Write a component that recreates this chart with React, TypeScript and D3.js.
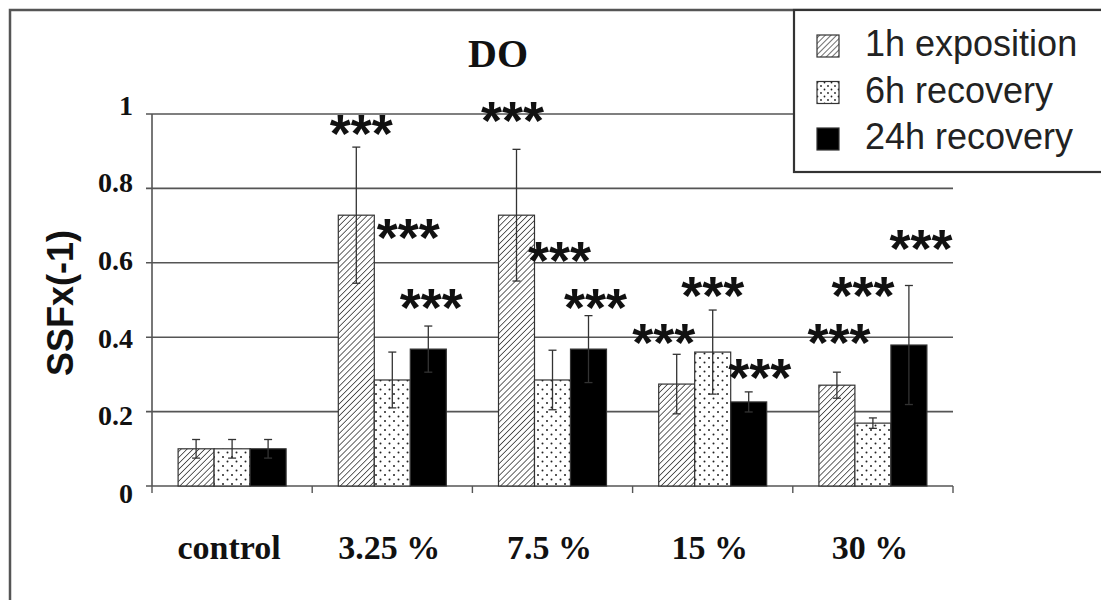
import React from "react";
import * as d3 from "d3";

const categories = ["control", "3.25 %", "7.5 %", "15 %", "30 %"];
const seriesNames = ["1h exposition", "6h recovery", "24h recovery"];
const exposition1h = [0.1, 0.728, 0.728, 0.274, 0.271];
const recovery6h = [0.1, 0.285, 0.285, 0.36, 0.169];
const recovery24h = [0.1, 0.368, 0.368, 0.226, 0.379];
const err1h = [0.025, 0.183, 0.177, 0.08, 0.035];
const err6h = [0.025, 0.075, 0.08, 0.113, 0.014];
const err24h = [0.025, 0.062, 0.09, 0.027, 0.16];
const yTicks = [0, 0.2, 0.4, 0.6, 0.8, 1];
const yTickLabels = ["0", "0.2", "0.4", "0.6", "0.8", "1"];
// significance marks: level (data units of star centre) per series per category
const star1h = [null, 0.962, 0.997, 0.401, 0.401];
const star6h = [null, 0.683, 0.621, 0.527, 0.527];
const star24h = [null, 0.495, 0.495, 0.306, 0.653];
const starShift1h = [0, 5, -4, -13, 2];
const starShift6h = [0, 16, 7, 0, -10];
const starShift24h = [0, 3, 7, 11, 12];

const W = 1101;
const H = 600;

export default function App() {
  const x0 = d3.scaleBand<string>().domain(categories).range([152, 953]).padding(0);
  const x1 = d3
    .scaleBand<string>()
    .domain(seriesNames)
    .range([0, x0.bandwidth()])
    .paddingInner(0)
    .paddingOuter(0.725);
  const y = d3.scaleLinear().domain([0, 1]).range([486, 114]);
  const yLab = d3.scaleLinear().domain([0, 1]).range([493, 105]);

  const values = [exposition1h, recovery6h, recovery24h];
  const errs = [err1h, err6h, err24h];
  const stars = [star1h, star6h, star24h];
  const shifts = [starShift1h, starShift6h, starShift24h];
  const fills = ["url(#hatch)", "url(#dots)", "#000"];

  const bw = x1.bandwidth();
  const starFs = 54;

  return (
    <svg width={W} height={H} style={{ position: "absolute", left: 0, top: 0, background: "#fff" }}>
      <defs>
        <pattern id="hatch" patternUnits="userSpaceOnUse" width="4.2" height="4.2" patternTransform="rotate(45)">
          <rect width="4.2" height="4.2" fill="#fff" />
          <line x1="0" y1="0" x2="0" y2="4.2" stroke="#222" strokeWidth="1.4" />
        </pattern>
        <pattern id="dots" patternUnits="userSpaceOnUse" width="9" height="9">
          <rect width="9" height="9" fill="#fff" />
          <circle cx="2.5" cy="2.5" r="1" fill="#222" />
          <circle cx="7" cy="7" r="1" fill="#222" />
        </pattern>
        <pattern id="hatchL" patternUnits="userSpaceOnUse" width="4" height="4" patternTransform="rotate(45)">
          <rect width="4" height="4" fill="#fff" />
          <line x1="0" y1="0" x2="0" y2="4" stroke="#222" strokeWidth="1.3" />
        </pattern>
        <pattern id="dotsL" patternUnits="userSpaceOnUse" width="7" height="7">
          <rect width="7" height="7" fill="#fff" />
          <circle cx="2" cy="2" r="0.9" fill="#222" />
          <circle cx="5.5" cy="5.5" r="0.9" fill="#222" />
        </pattern>
      </defs>
      <rect x={0} y={0} width={W} height={H} fill="#fff" />
      {/* outer frame */}
      <rect x={10} y={10} width={W + 20} height={H + 20} fill="none" stroke="#555" strokeWidth={2.5} />

      {/* title */}
      <text x={498} y={67} textAnchor="middle" fontFamily="Liberation Serif" fontWeight="bold" fontSize={40} fill="#111">
        DO
      </text>

      {/* gridlines */}
      {yTicks.map((t, i) => (
        <g key={"g" + i}>
          <line x1={146} x2={953} y1={y(t)} y2={y(t)} stroke="#555" strokeWidth={1.6} />
          <text
            x={133}
            y={yLab(t)}
            dy="0.35em"
            textAnchor="end"
            fontFamily="Liberation Serif"
            fontWeight="bold"
            fontSize={28}
            fill="#111"
          >
            {yTickLabels[i]}
          </text>
        </g>
      ))}
      {/* y axis */}
      <line x1={152} x2={152} y1={y(1)} y2={y(0)} stroke="#555" strokeWidth={1.6} />
      {/* x ticks */}
      {categories.map((c, i) => (
        <line key={"xt" + i} x1={x0(c)!} x2={x0(c)!} y1={y(0)} y2={y(0) + 7} stroke="#555" strokeWidth={1.4} />
      ))}
      <line x1={953} x2={953} y1={y(0)} y2={y(0) + 7} stroke="#555" strokeWidth={1.4} />

      {/* y axis title */}
      <text
        transform={`translate(73,303) rotate(-90)`}
        textAnchor="middle"
        fontFamily="Liberation Sans"
        fontWeight="bold"
        fontSize={36}
        fill="#111"
      >
        SSFx(-1)
      </text>

      {/* bars */}
      {seriesNames.map((s, si) =>
        categories.map((c, ci) => {
          const bx = x0(c)! + x1(s)!;
          const v = values[si][ci];
          return (
            <rect
              key={`b${si}-${ci}`}
              x={bx}
              y={y(v)}
              width={bw}
              height={y(0) - y(v)}
              fill={fills[si]}
              stroke="#333"
              strokeWidth={1.2}
            />
          );
        })
      )}
      {/* error bars */}
      {seriesNames.map((s, si) =>
        categories.map((c, ci) => {
          const cx = x0(c)! + x1(s)! + bw / 2;
          const v = values[si][ci];
          const e = errs[si][ci];
          return (
            <g key={`e${si}-${ci}`} stroke="#333" strokeWidth={1.3}>
              <line x1={cx} x2={cx} y1={y(v + e)} y2={y(v - e)} />
              <line x1={cx - 4} x2={cx + 4} y1={y(v + e)} y2={y(v + e)} />
              <line x1={cx - 4} x2={cx + 4} y1={y(v - e)} y2={y(v - e)} />
            </g>
          );
        })
      )}
      {/* significance stars */}
      {seriesNames.map((s, si) =>
        categories.map((c, ci) => {
          const lvl = stars[si][ci];
          if (lvl == null) return null;
          const cx = x0(c)! + x1(s)! + bw / 2 + shifts[si][ci];
          return (
            <text
              key={`s${si}-${ci}`}
              x={cx}
              y={y(lvl) + starFs * 0.45}
              textAnchor="middle"
              fontFamily="Liberation Sans"
              fontWeight="bold"
              fontSize={starFs}
              fill="#111"
            >
              ***
            </text>
          );
        })
      )}

      {/* category labels */}
      {categories.map((c, i) => (
        <text
          key={"xl" + i}
          x={x0(c)! + x0.bandwidth() / 2 - 3}
          y={559}
          textAnchor="middle"
          fontFamily="Liberation Serif"
          fontWeight="bold"
          fontSize={34}
          fill="#111"
        >
          {c}
        </text>
      ))}

      {/* legend */}
      <rect x={794} y={10} width={400} height={162} fill="#fff" stroke="#333" strokeWidth={2.2} />
      {seriesNames.map((s, i) => (
        <g key={"lg" + i}>
          <rect
            x={817}
            y={35 + i * 46.5}
            width={22}
            height={22}
            fill={i === 0 ? "url(#hatchL)" : i === 1 ? "url(#dotsL)" : "#000"}
            stroke="#333"
            strokeWidth={1.2}
          />
          <text x={865} y={56 + i * 46.5} fontFamily="Liberation Sans" fontSize={36} fill="#222">
            {s}
          </text>
        </g>
      ))}
    </svg>
  );
}
